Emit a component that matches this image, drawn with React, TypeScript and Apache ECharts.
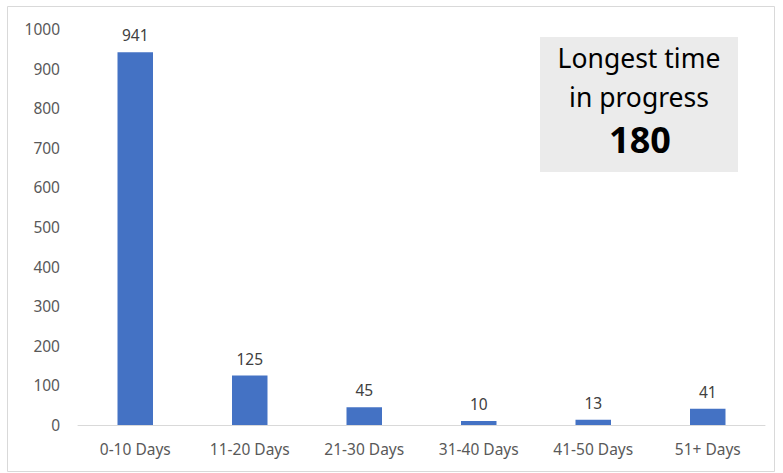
import React, { useEffect, useRef } from "react";
import * as echarts from "echarts";

const categories = ["0-10 Days", "11-20 Days", "21-30 Days", "31-40 Days", "41-50 Days", "51+ Days"];
const values = [941, 125, 45, 10, 13, 41];
const boxLines = ["Longest time", "in progress"];
const boxValue = "180";

export default function App() {
  const ref = useRef<HTMLDivElement>(null);
  useEffect(() => {
    document.body.style.margin = "0";
    const chart = echarts.init(ref.current!, null, { renderer: "svg" });
    const font = "'Noto Sans', 'Open Sans', sans-serif";
    chart.setOption({
      animation: false,
      backgroundColor: "#ffffff",
      textStyle: { fontFamily: font },
      grid: { left: 78, right: 18, top: 29, bottom: 48, containLabel: false },
      xAxis: {
        type: "category",
        data: categories,
        axisLine: { lineStyle: { color: "#d9d9d9", width: 1 } },
        axisTick: { show: false },
        axisLabel: { color: "#595959", fontSize: 15.5, margin: 16, fontFamily: font },
      },
      yAxis: {
        type: "value",
        min: 0,
        max: 1000,
        interval: 100,
        splitLine: { show: false },
        axisLine: { show: false },
        axisTick: { show: false },
        axisLabel: {
          color: "#595959",
          fontSize: 15.5,
          margin: 18,
          fontFamily: font,
          formatter: (v: number) => String(v),
        },
      },
      series: [
        {
          type: "bar",
          data: values,
          barWidth: "31%",
          itemStyle: { color: "#4472C4" },
          label: {
            show: true,
            position: "top",
            distance: 9,
            color: "#404040",
            fontSize: 15.5,
            fontFamily: font,
          },
        },
      ],
      graphic: [
        {
          type: "rect",
          left: 5,
          top: 4,
          shape: { width: 767, height: 465 },
          style: { fill: "none", stroke: "#d9d9d9", lineWidth: 1 },
          silent: true,
        },
        {
          type: "rect",
          left: 540,
          top: 37,
          shape: { width: 198, height: 135 },
          style: { fill: "#ebebeb" },
          silent: true,
        },
        {
          type: "text",
          x: 639,
          y: 58,
          style: {
            text: boxLines[0],
            fontSize: 26.5,
            fontFamily: font,
            fill: "#000000",
            align: "center",
            verticalAlign: "middle",
          },
        },
        {
          type: "text",
          x: 639,
          y: 97,
          style: {
            text: boxLines[1],
            fontSize: 26.5,
            fontFamily: font,
            fill: "#000000",
            align: "center",
            verticalAlign: "middle",
          },
        },
        {
          type: "text",
          x: 640,
          y: 139,
          style: {
            text: boxValue,
            fontSize: 36,
            fontWeight: "bold",
            fontFamily: font,
            fill: "#000000",
            align: "center",
            verticalAlign: "middle",
          },
        },
      ],
    });
    return () => chart.dispose();
  }, []);
  return <div ref={ref} style={{ width: 783, height: 473 }} />;
}
